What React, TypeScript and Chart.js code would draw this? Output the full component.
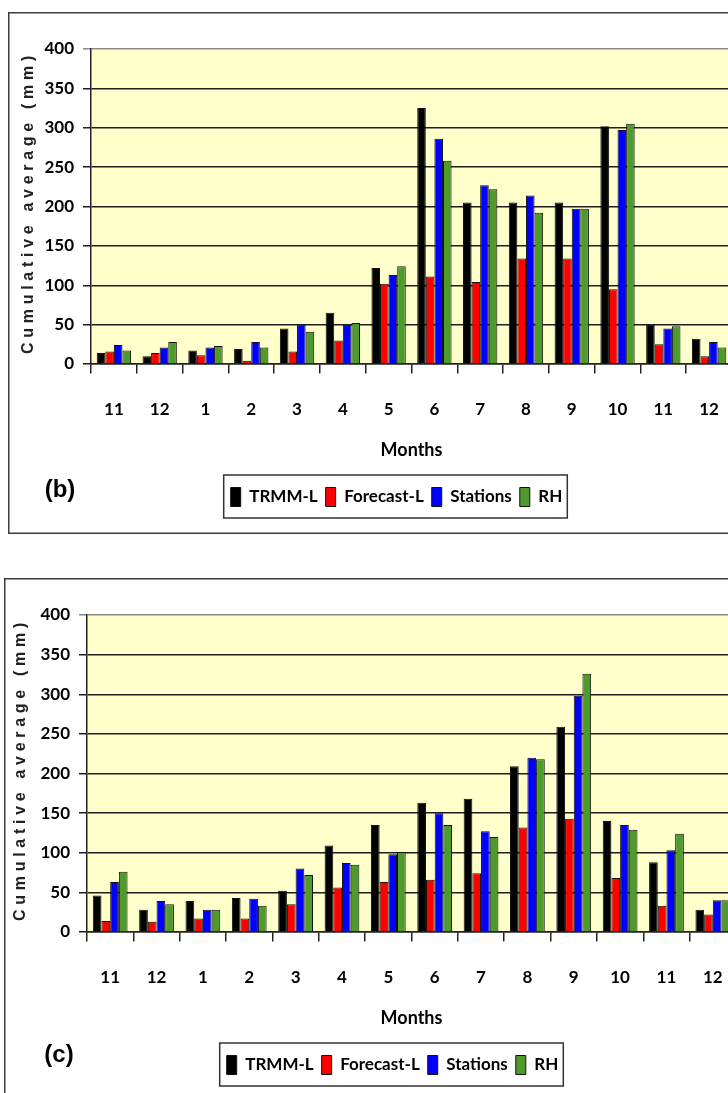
import React, { useEffect, useRef } from 'react';
import { Chart, registerables } from 'chart.js';

Chart.register(...registerables);

const months = ['11', '12', '1', '2', '3', '4', '5', '6', '7', '8', '9', '10', '11', '12'];
const seriesLabels = ['TRMM-L', 'Forecast-L', 'Stations', 'RH'];
const seriesColors = ['#000000', '#ff0000', '#0000ff', '#4f9a2c'];
const yTickValues = [0, 50, 100, 150, 200, 250, 300, 350, 400];

// Panel (b)
const trmmB = [14, 10, 17, 19, 45, 65, 122, 325, 205, 205, 205, 302, 50, 32];
const forecastB = [16, 14, 11, 4, 16, 30, 102, 111, 104, 134, 134, 95, 25, 10];
const stationsB = [24, 21, 21, 28, 50, 50, 113, 286, 227, 214, 197, 297, 45, 28];
const rhB = [17, 28, 23, 21, 41, 52, 124, 258, 222, 192, 197, 305, 48, 21];

// Panel (c)
const trmmC = [46, 28, 39, 43, 52, 109, 135, 163, 168, 209, 259, 140, 88, 28];
const forecastC = [14, 13, 17, 17, 35, 56, 63, 66, 74, 132, 143, 68, 33, 22];
const stationsC = [63, 39, 28, 42, 80, 87, 98, 150, 127, 220, 298, 135, 103, 40];
const rhC = [76, 35, 28, 33, 72, 85, 101, 135, 120, 218, 326, 129, 124, 40];

const yTitle = 'Cumulative average (mm)';
const xTitle = 'Months';

const FONT = 'Lato, "Open Sans", sans-serif';
const W = 777;
const H = 522;

type PanelProps = {
  series: number[][];
  tag: string;
  tagX: number;
  tagY: number;
  titleX: number;
  rightGap: number;
  padBottom: number;
  left: number;
  top: number;
};

function Panel({ series, tag, tagX, tagY, titleX, rightGap, padBottom, left, top }: PanelProps) {
  const ref = useRef<HTMLCanvasElement>(null);

  useEffect(() => {
    const canvas = ref.current;
    if (!canvas) return;

    const decor = {
      id: 'decor',
      beforeDraw(chart: any) {
        const { ctx, chartArea: a } = chart;
        ctx.save();
        ctx.fillStyle = '#ffffff';
        ctx.fillRect(0, 0, chart.width, chart.height);
        ctx.fillStyle = '#ffffcc';
        ctx.fillRect(a.left, a.top, a.right - a.left, a.bottom - a.top);
        ctx.restore();
      },
      afterDraw(chart: any) {
        const { ctx, chartArea: a } = chart;
        ctx.save();
        // outer frame
        ctx.strokeStyle = '#3c3c3c';
        ctx.lineWidth = 1.5;
        ctx.strokeRect(0.75, 0.75, chart.width - 1.5, chart.height - 1.5);
        // legend box
        const hb = chart.legend && chart.legend.legendHitBoxes ? chart.legend.legendHitBoxes : [];
        if (hb.length) {
          let l = Infinity;
          let r = -Infinity;
          let cy = 0;
          hb.forEach((h: any) => {
            l = Math.min(l, h.left);
            r = Math.max(r, h.left + h.width);
            cy = h.top + h.height / 2;
          });
          ctx.strokeStyle = '#333333';
          ctx.lineWidth = 1.5;
          ctx.strokeRect(l - 7, cy - 22, r - l + 12, 43);
        }
        // y-axis title
        ctx.save();
        ctx.translate(titleX, (a.top + a.bottom) / 2 - 4);
        ctx.rotate(-Math.PI / 2);
        ctx.font = 'bold 16px "Liberation Sans", Arial, sans-serif';
        (ctx as any).letterSpacing = '4.7px';
        ctx.fillStyle = '#222222';
        ctx.textAlign = 'center';
        ctx.textBaseline = 'alphabetic';
        ctx.fillText(yTitle, 0, 0);
        ctx.restore();
        // panel tag
        ctx.font = 'bold 24px "Liberation Sans", Arial, sans-serif';
        ctx.fillStyle = '#000000';
        ctx.textAlign = 'center';
        ctx.textBaseline = 'middle';
        ctx.fillText(tag, tagX, tagY);
        ctx.restore();
      },
    };

    const chart = new Chart(canvas, {
      type: 'bar',
      data: {
        labels: months,
        datasets: series.map((d, i) => ({
          label: seriesLabels[i],
          data: d,
          backgroundColor: seriesColors[i],
          borderColor: '#111111',
          borderWidth: 1,
          categoryPercentage: 0.75,
          barPercentage: 1,
          yAxisID: 'y',
        })),
      },
      options: {
        animation: false,
        responsive: false,
        devicePixelRatio: 1,
        layout: { padding: { top: 37, bottom: padBottom, left: 0, right: 0 } },
        plugins: {
          tooltip: { enabled: false },
          title: { display: false },
          legend: {
            display: true,
            position: 'bottom',
            align: 'center',
            labels: {
              boxWidth: 10,
              boxHeight: 19,
              padding: 8,
              color: '#000000',
              font: { family: FONT, size: 17, weight: 'bold' },
            },
          },
        },
        scales: {
          x: {
            grid: {
              display: true,
              drawOnChartArea: false,
              drawTicks: true,
              tickLength: 35,
              tickBorderDash: [9, 200],
              color: '#222222',
              lineWidth: 1.5,
              offset: true,
            },
            border: { display: true, color: '#222222', width: 1.5 },
            ticks: {
              color: '#000000',
              font: { family: FONT, size: 17, weight: 'bold' },
              padding: 0,
              maxRotation: 0,
              autoSkip: false,
            },
            title: {
              display: true,
              text: xTitle,
              color: '#000000',
              font: { family: FONT, size: 18, weight: 'bold' },
              padding: { top: 19.8, bottom: 18.7 },
            },
          },
          y: {
            min: yTickValues[0],
            max: yTickValues[yTickValues.length - 1],
            afterFit: (s: any) => {
              s.width = 83;
            },
            afterBuildTicks: (s: any) => {
              s.ticks = yTickValues.map((v) => ({ value: v }));
            },
            ticks: {
              color: '#000000',
              font: { family: FONT, size: 17, weight: 'bold' },
              padding: 9,
            },
            grid: {
              color: (c: any) => (c.tick && c.tick.value === 400 ? '#8a8a8a' : '#1e1e1e'),
              lineWidth: 1.5,
              tickLength: 8,
              drawTicks: true,
            },
            border: { display: true, color: '#222222', width: 1.5 },
            title: { display: false },
          },
          yR: {
            position: 'right',
            display: true,
            grid: { display: false, drawTicks: false },
            border: { display: false },
            ticks: { display: false },
            afterFit: (s: any) => {
              s.width = rightGap;
            },
          },
        },
      },
      plugins: [decor],
    } as any);

    return () => chart.destroy();
  }, []);

  return (
    <div style={{ position: 'absolute', left, top, width: W, height: H }}>
      <canvas ref={ref} width={W} height={H} style={{ display: 'block', width: W, height: H }} />
    </div>
  );
}

export default function App() {
  useEffect(() => {
    document.documentElement.style.overflow = 'hidden';
  }, []);
  return (
    <div
      style={{
        position: 'fixed',
        left: 0,
        top: 0,
        width: 728,
        height: 1093,
        overflow: 'hidden',
        background: '#ffffff',
      }}
    >
      <Panel
        series={[trmmB, forecastB, stationsB, rhB]}
        tag="(b)"
        tagX={52}
        tagY={478}
        titleX={25}
        rightGap={53}
        padBottom={17.5}
        left={8}
        top={12}
      />
      <Panel
        series={[trmmC, forecastC, stationsC, rhC]}
        tag="(c)"
        tagX={55}
        tagY={477}
        titleX={21}
        rightGap={45}
        padBottom={15.5}
        left={4}
        top={578}
      />
    </div>
  );
}
